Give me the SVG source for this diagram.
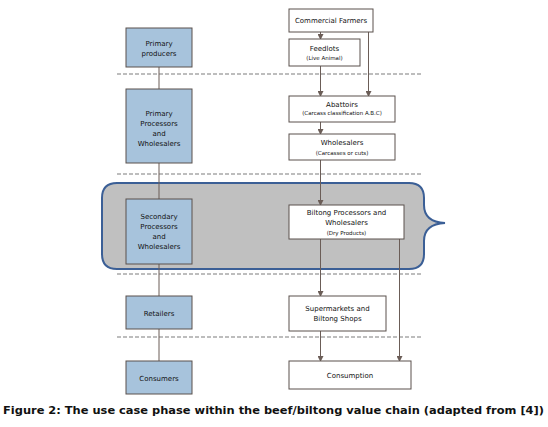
<svg xmlns="http://www.w3.org/2000/svg" width="548" height="427" viewBox="0 0 548 427">
<defs>
<style>
.lb{fill:#a7c3dc;stroke:#5a504c;stroke-width:1}
.wb{fill:#fff;stroke:#5a504c;stroke-width:1}
.t{font-family:"DejaVu Sans",Verdana,sans-serif;font-size:7px;fill:#111;text-anchor:middle}
.s{font-family:"DejaVu Sans",Verdana,sans-serif;font-size:5.5px;fill:#111;text-anchor:middle}
.c{stroke:#6b5d57;stroke-width:1;fill:none}
.d{stroke:#a8a8a8;stroke-width:1.5;stroke-dasharray:4 2;fill:none}
</style>
<marker id="ah" markerWidth="6" markerHeight="6" refX="5" refY="3" orient="auto" markerUnits="userSpaceOnUse">
<path d="M0,0 L6,3 L0,6 Z" fill="#6b5d57"/>
</marker>
</defs>
<rect width="548" height="427" fill="#fff"/>
<g id="separators">
<line class="d" x1="117" y1="74" x2="421" y2="74"/>
<line class="d" x1="117" y1="174" x2="421" y2="174"/>
<line class="d" x1="117" y1="274" x2="421" y2="274"/>
<line class="d" x1="117" y1="337" x2="421" y2="337"/>
</g>
<g id="usecase-phase">
<path d="M117,183 H409 Q424,183 424,198 V205 Q424,222 445,223 Q424,224 424,241 V254 Q424,269 409,269 H117 Q102,269 102,254 V198 Q102,183 117,183 Z" fill="#c0c0c0" stroke="#3b5f96" stroke-width="2"/>
</g>
<g id="connectors">
<line class="c" x1="159" y1="67" x2="159" y2="89"/>
<line class="c" x1="159" y1="163" x2="159" y2="199"/>
<line class="c" x1="159" y1="264" x2="159" y2="296"/>
<line class="c" x1="159" y1="329" x2="159" y2="361"/>
<line class="c" x1="320.5" y1="32" x2="320.5" y2="39" marker-end="url(#ah)"/>
<line class="c" x1="320.5" y1="66" x2="320.5" y2="96" marker-end="url(#ah)"/>
<line class="c" x1="368.5" y1="32" x2="368.5" y2="96" marker-end="url(#ah)"/>
<line class="c" x1="320.5" y1="122" x2="320.5" y2="134" marker-end="url(#ah)"/>
<line class="c" x1="320.5" y1="160" x2="320.5" y2="205" marker-end="url(#ah)"/>
<line class="c" x1="320.5" y1="239" x2="320.5" y2="296" marker-end="url(#ah)"/>
<line class="c" x1="320.5" y1="331" x2="320.5" y2="361" marker-end="url(#ah)"/>
<line class="c" x1="399.5" y1="239" x2="399.5" y2="361" marker-end="url(#ah)"/>
</g>
<g id="primary-producers">
<rect class="lb" x="126" y="28" width="66" height="39"/>
<text class="t" x="159" y="45.5">Primary</text>
<text class="t" x="159" y="55.5">producers</text>
</g>
<g id="primary-processors">
<rect class="lb" x="126" y="89" width="66" height="74"/>
<text class="t" x="159" y="115.5">Primary</text>
<text class="t" x="159" y="125.5">Processors</text>
<text class="t" x="159" y="135.5">and</text>
<text class="t" x="159" y="145.5">Wholesalers</text>
</g>
<g id="secondary-processors">
<rect class="lb" x="126" y="199" width="66" height="65"/>
<text class="t" x="159" y="218.5">Secondary</text>
<text class="t" x="159" y="228.5">Processors</text>
<text class="t" x="159" y="238.5">and</text>
<text class="t" x="159" y="248.5">Wholesalers</text>
</g>
<g id="retailers">
<rect class="lb" x="126" y="296" width="66" height="33"/>
<text class="t" x="159" y="315.5">Retailers</text>
</g>
<g id="consumers">
<rect class="lb" x="126" y="361" width="66" height="33"/>
<text class="t" x="159" y="380.5">Consumers</text>
</g>
<g id="commercial-farmers">
<rect class="wb" x="289" y="9" width="84" height="23"/>
<text class="t" x="331" y="22.5">Commercial Farmers</text>
</g>
<g id="feedlots">
<rect class="wb" x="289" y="39" width="71" height="27"/>
<text class="t" x="324.5" y="50.5">Feedlots</text>
<text class="s" x="324.5" y="60">(Live Animal)</text>
</g>
<g id="abattoirs">
<rect class="wb" x="289" y="96" width="106" height="26"/>
<text class="t" x="342" y="107">Abattoirs</text>
<text class="s" x="342" y="115">(Carcass classification A.B.C)</text>
</g>
<g id="wholesalers">
<rect class="wb" x="289" y="134" width="106" height="26"/>
<text class="t" x="342" y="144.5">Wholesalers</text>
<text class="s" x="342" y="154.5">(Carcasses or cuts)</text>
</g>
<g id="biltong-processors">
<rect class="wb" x="289" y="205" width="115" height="34"/>
<text class="t" x="346.5" y="214.8">Biltong Processors and</text>
<text class="t" x="346.5" y="224.8">Wholesalers</text>
<text class="s" x="346.5" y="234.5">(Dry Products)</text>
</g>
<g id="supermarkets">
<rect class="wb" x="289" y="296" width="97" height="35"/>
<text class="t" x="337.5" y="310.5">Supermarkets and</text>
<text class="t" x="337.5" y="320.8">Biltong Shops</text>
</g>
<g id="consumption">
<rect class="wb" x="289" y="361" width="122" height="28"/>
<text class="t" x="350" y="377.5">Consumption</text>
</g>
<text x="3" y="413.5" font-family="'DejaVu Sans',Verdana,sans-serif" font-size="10.3" font-weight="bold" fill="#111" textLength="541" lengthAdjust="spacingAndGlyphs">Figure 2: The use case phase within the beef/biltong value chain (adapted from [4])</text>
</svg>
